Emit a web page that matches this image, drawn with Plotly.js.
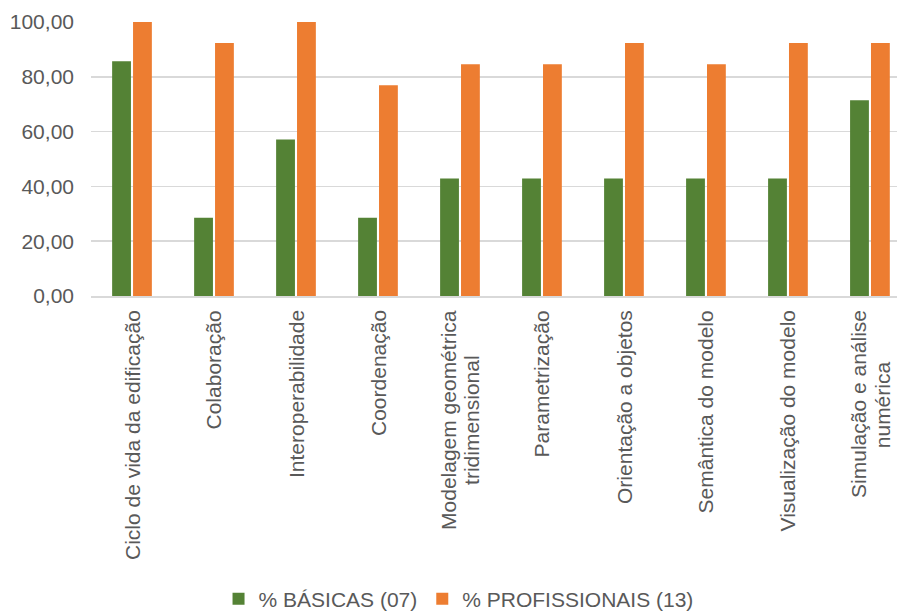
<!DOCTYPE html>
<html>
<head>
<meta charset="utf-8">
<script src="https://cdn.plot.ly/plotly-3.0.1.min.js"></script>
<style>
  html, body { margin: 0; padding: 0; background: #ffffff; }
  #chart { width: 897px; height: 611px; }
</style>
</head>
<body>
<div id="chart"></div>
<script>
const categories = [
  "Ciclo de vida da edificação",
  "Colaboração",
  "Interoperabilidade",
  "Coordenação",
  "Modelagem geométrica tridimensional",
  "Parametrização",
  "Orientação a objetos",
  "Semântica do modelo",
  "Visualização do modelo",
  "Simulação e análise numérica"
];
const categoryLabels = [
  "Ciclo de vida da edificação",
  "Colaboração",
  "Interoperabilidade",
  "Coordenação",
  "Modelagem geométrica<br>tridimensional",
  "Parametrização",
  "Orientação a objetos",
  "Semântica do modelo",
  "Visualização do modelo",
  "Simulação e análise<br>numérica"
];
const basicas = [85.71, 28.57, 57.14, 28.57, 42.86, 42.86, 42.86, 42.86, 42.86, 71.43];
const profissionais = [100.00, 92.31, 100.00, 76.92, 84.62, 84.62, 92.31, 84.62, 92.31, 92.31];
const seriesNames = ["% BÁSICAS (07)", "% PROFISSIONAIS (13)"];
const yTicks = [0, 20, 40, 60, 80, 100];

const FONT = '"Liberation Sans", Arial, sans-serif';
const GRAY = '#595959';
const LABEL_SIZE = 21;
const LINE_GAP = 24;

const traces = [
  { type: 'bar', x: categories, y: basicas, name: seriesNames[0],
    marker: { color: '#548235' }, hoverinfo: 'y' },
  { type: 'bar', x: categories, y: profissionais, name: seriesNames[1],
    marker: { color: '#ED7D31' }, hoverinfo: 'y' }
];

// measure text so multi-line category labels can be centred with a tighter line gap
const ctx = document.createElement('canvas').getContext('2d');
ctx.font = LABEL_SIZE + 'px ' + FONT;

const annotations = [];
categories.forEach((c, i) => {
  const lines = categoryLabels[i].split('<br>');
  const widths = lines.map(l => ctx.measureText(l).width);
  const maxW = Math.max.apply(null, widths);
  lines.forEach((line, j) => {
    annotations.push({
      x: c, xref: 'x', y: 0, yref: 'paper',
      text: line, textangle: -90,
      xanchor: 'center', yanchor: 'top',
      xshift: (j - (lines.length - 1) / 2) * LINE_GAP,
      yshift: -12 - (maxW - widths[j]) / 2,
      showarrow: false,
      font: { family: FONT, size: LABEL_SIZE, color: GRAY }
    });
  });
});

const layout = {
  width: 897, height: 611,
  margin: { l: 91, r: 0, t: 22, b: 315, autoexpand: false },
  paper_bgcolor: '#ffffff', plot_bgcolor: '#ffffff',
  separators: ',.',
  font: { family: FONT, size: 21, color: GRAY },
  barmode: 'group',
  bargap: 0.49,
  bargroupgap: 0.1,
  showlegend: true,
  legend: {
    orientation: 'h', x: 0.456, xanchor: 'center', y: -1.106, yanchor: 'middle',
    font: { family: FONT, size: 21, color: GRAY }, itemwidth: 30,
    traceorder: 'normal'
  },
  xaxis: {
    type: 'category', range: [-0.5, 9.33],
    showticklabels: false, showgrid: false, zeroline: false,
    showline: true, linecolor: '#d9d9d9', linewidth: 2, ticks: ''
  },
  yaxis: {
    range: [0, 100], tickvals: yTicks, tickformat: '.2f',
    showgrid: true, gridcolor: '#d9d9d9', gridwidth: 1.5,
    zeroline: false, showline: false, ticks: '',
    ticklabelstandoff: 16,
    tickfont: { family: FONT, size: 21, color: GRAY }
  },
  annotations: annotations
};

Plotly.newPlot('chart', traces, layout, { displayModeBar: false, staticPlot: true });
</script>
</body>
</html>
